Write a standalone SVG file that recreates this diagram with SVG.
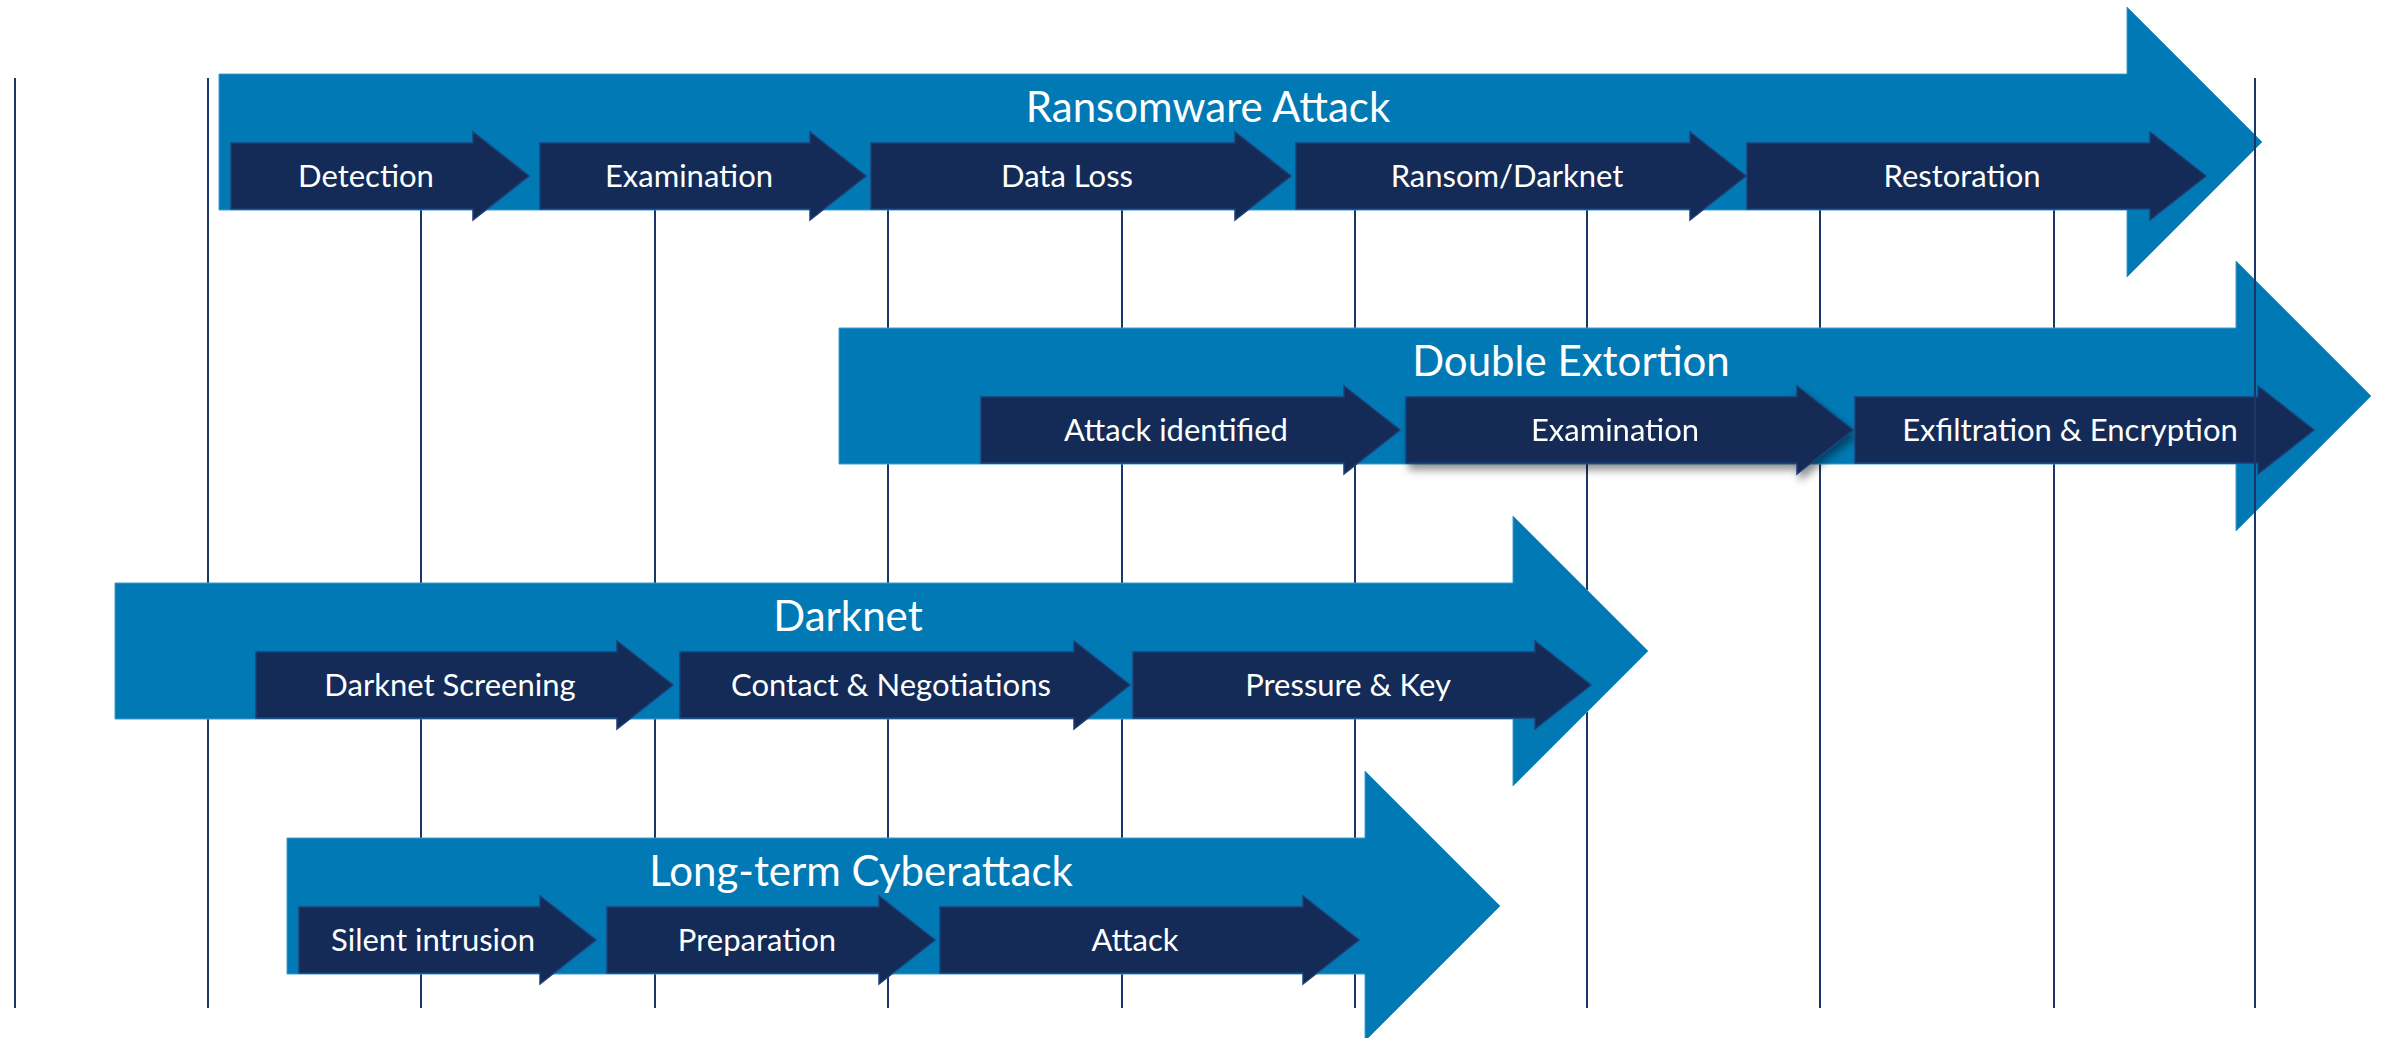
<svg xmlns="http://www.w3.org/2000/svg" width="2384" height="1038" viewBox="0 0 2384 1038">
  <style>
    .grid line { stroke: #1b3668; stroke-width: 2; }
    .banner { fill: #0079b4; stroke: #3f9ccc; stroke-width: 1; }
    .step { fill: #132b56; stroke: #1d3f78; stroke-width: 1.5; }
    .title { font-family: Lato, "Open Sans", sans-serif; font-size: 42px; fill: #ffffff; text-anchor: middle; }
    .label { font-family: Lato, "Open Sans", sans-serif; font-size: 31px; fill: #ffffff; text-anchor: middle; }
  </style>
  <defs>
    <filter id="lift" x="-10%" y="-30%" width="120%" height="170%">
      <feGaussianBlur in="SourceAlpha" stdDeviation="4"/>
      <feOffset dx="3" dy="6" result="off"/>
      <feComponentTransfer><feFuncA type="linear" slope="0.45"/></feComponentTransfer>
      <feMerge><feMergeNode/><feMergeNode in="SourceGraphic"/></feMerge>
    </filter>
  </defs>

  <rect width="2384" height="1038" fill="#ffffff"/>

  <!-- timeline grid, behind the banners -->
  <g id="timeline-grid" class="grid">
    <line x1="15" y1="78" x2="15" y2="1008"/>
    <line x1="208" y1="78" x2="208" y2="1008"/>
    <line x1="421" y1="78" x2="421" y2="1008"/>
    <line x1="655" y1="78" x2="655" y2="1008"/>
    <line x1="888" y1="78" x2="888" y2="1008"/>
    <line x1="1122" y1="78" x2="1122" y2="1008"/>
    <line x1="1355" y1="78" x2="1355" y2="1008"/>
    <line x1="1587" y1="78" x2="1587" y2="1008"/>
    <line x1="1820" y1="78" x2="1820" y2="1008"/>
    <line x1="2054" y1="78" x2="2054" y2="1008"/>
  </g>

  <!-- Ransomware Attack -->
  <g id="ransomware-attack">
    <path class="banner" d="M219,74 H2127 V7 L2262,142 L2127,277 V210 H219 Z"/>
    <text class="title" x="1208" y="122">Ransomware Attack</text>
    <g id="ra-detection">
      <path class="step" d="M231,143 H473 V132 L529,176 L473,220 V209 H231 Z"/>
      <text class="label" x="366" y="187">Detection</text>
    </g>
    <g id="ra-examination">
      <path class="step" d="M540,143 H810 V132 L866,176 L810,220 V209 H540 Z"/>
      <text class="label" x="689" y="187">Examination</text>
    </g>
    <g id="ra-data-loss">
      <path class="step" d="M871,143 H1235 V132 L1291,176 L1235,220 V209 H871 Z"/>
      <text class="label" x="1067" y="187">Data Loss</text>
    </g>
    <g id="ra-ransom-darknet">
      <path class="step" d="M1296,143 H1690 V132 L1746,176 L1690,220 V209 H1296 Z"/>
      <text class="label" x="1507" y="187">Ransom/Darknet</text>
    </g>
    <g id="ra-restoration">
      <path class="step" d="M1747,143 H2150 V132 L2206,176 L2150,220 V209 H1747 Z"/>
      <text class="label" x="1962" y="187">Restoration</text>
    </g>
  </g>

  <!-- Double Extortion -->
  <g id="double-extortion">
    <path class="banner" d="M839,328 H2236 V261 L2371,396 L2236,531 V464 H839 Z"/>
    <text class="title" x="1571" y="376">Double Extortion</text>
    <g id="de-attack-identified">
      <path class="step" d="M981,397 H1344 V386 L1400,430 L1344,474 V463 H981 Z"/>
      <text class="label" x="1176" y="441">Attack identified</text>
    </g>
    <g id="de-examination" filter="url(#lift)">
      <path class="step" d="M1406,397 H1797 V386 L1853,430 L1797,474 V463 H1406 Z"/>
      <text class="label" x="1615" y="441">Examination</text>
    </g>
    <g id="de-exfiltration">
      <path class="step" d="M1855,397 H2258 V386 L2314,430 L2258,474 V463 H1855 Z"/>
      <text class="label" x="2070" y="441">Exfiltration &amp; Encryption</text>
    </g>
  </g>

  <!-- Darknet -->
  <g id="darknet">
    <path class="banner" d="M115,583 H1513 V516 L1648,651 L1513,786 V719 H115 Z"/>
    <text class="title" x="848" y="631">Darknet</text>
    <g id="dn-screening">
      <path class="step" d="M256,652 H617 V641 L673,685 L617,729 V718 H256 Z"/>
      <text class="label" x="450" y="696">Darknet Screening</text>
    </g>
    <g id="dn-contact">
      <path class="step" d="M680,652 H1074 V641 L1130,685 L1074,729 V718 H680 Z"/>
      <text class="label" x="891" y="696">Contact &amp; Negotiations</text>
    </g>
    <g id="dn-pressure">
      <path class="step" d="M1133,652 H1535 V641 L1591,685 L1535,729 V718 H1133 Z"/>
      <text class="label" x="1348" y="696">Pressure &amp; Key</text>
    </g>
  </g>

  <!-- Long-term Cyberattack -->
  <g id="long-term-cyberattack">
    <path class="banner" d="M287,838 H1365 V771 L1500,906 L1365,1041 V974 H287 Z"/>
    <text class="title" x="861" y="886">Long-term Cyberattack</text>
    <g id="lt-silent-intrusion">
      <path class="step" d="M299,907 H540 V896 L596,940 L540,984 V973 H299 Z"/>
      <text class="label" x="433" y="951">Silent intrusion</text>
    </g>
    <g id="lt-preparation">
      <path class="step" d="M607,907 H879 V896 L935,940 L879,984 V973 H607 Z"/>
      <text class="label" x="757" y="951">Preparation</text>
    </g>
    <g id="lt-attack">
      <path class="step" d="M940,907 H1303 V896 L1359,940 L1303,984 V973 H940 Z"/>
      <text class="label" x="1135" y="951">Attack</text>
    </g>
  </g>

  <!-- end-of-timeline marker, drawn over the banners -->
  <g id="timeline-end" class="grid">
    <line x1="2255" y1="78" x2="2255" y2="1008"/>
  </g>
</svg>
